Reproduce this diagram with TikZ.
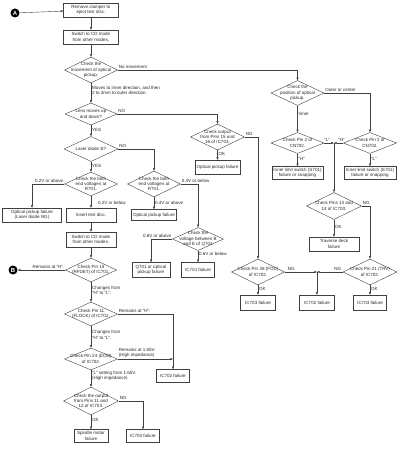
\documentclass[tikz,border=0pt]{standalone}
\usepackage{fontspec}
\setmainfont{Liberation Sans}
\usepackage{tikz}
\usetikzlibrary{shapes.geometric, arrows.meta}

\begin{document}
\begin{tikzpicture}[x=1pt, y=-1pt,
        font=\fontsize{4.5}{5.3}\selectfont,
        every node/.style={text=black!85},
        every label/.style={align=center, inner sep=0pt},
        box/.style={draw=black!75, line width=0.4pt, rectangle, align=center, inner sep=0.5pt},
        decision/.style={draw=black!75, line width=0.4pt, diamond, inner sep=0pt},
        lbl/.style={align=left, inner sep=1pt},
        tag/.style={circle, fill=black, text=white, font=\fontsize{6}{6}\selectfont\bfseries, inner sep=0pt, minimum size=9pt},
        arrow/.style={draw=black!75, line width=0.4pt, -{Triangle[length=2.6pt, width=2pt]}}
    ]
        \useasboundingbox (0,0) rectangle (400,449);

        % left column
        \node[tag] (circA) at (15,13) {A};
        \node[box, minimum width=55pt, minimum height=14pt] (remove) at (91,10) {Remove clamper to\\eject test disc.};
        \node[box, minimum width=55pt, minimum height=14pt] (cdmode) at (91,37) {Switch to CD mode\\from other modes.};
        \node[decision, minimum width=53pt, minimum height=26pt, label={center:{Check the\\movement of optical\\pickup.}}] (move) at (91,70) {};
        \node[decision, minimum width=52pt, minimum height=22pt, label={center:{Lens moves up\\and down?}}] (lens) at (91,114) {};
        \node[decision, minimum width=54pt, minimum height=25pt, label={center:{Laser diode lit?}}] (laser) at (91,149) {};
        \node[decision, minimum width=53pt, minimum height=24pt, label={center:{Check the both\\end voltages at\\R701.}}] (rvolt) at (91,184) {};
        \node[box, minimum width=59pt, minimum height=14pt] (laserng) at (32,215) {Optical pickup failure\\(Laser diode NG)};
        \node[box, minimum width=50pt, minimum height=14pt] (insert) at (91,215) {Insert test disc.};
        \node[box, minimum width=50pt, minimum height=15pt] (cdmode2) at (91,239.5) {Switch to CD mode\\from other modes.};
        \node[decision, minimum width=51pt, minimum height=24pt, label={center:{Check Pin 15\\(RFDET) of IC701.}}] (rfdet) at (91,270) {};
        \node[tag] (circB) at (13,270) {B};
        \node[decision, minimum width=53pt, minimum height=24pt, label={center:{Check Pin 11\\(FLOCK) of IC702.}}] (flock) at (91,314) {};
        \node[decision, minimum width=53pt, minimum height=22pt, label={center:{Check Pin 24 (ECM)\\of IC702.}}] (ecm) at (91,359) {};
        \node[box, minimum width=33pt, minimum height=13pt] (flockng) at (173,376) {IC702 failure};
        \node[decision, minimum width=55pt, minimum height=28pt, label={center:{Check the output\\from Pins 11 and\\12 of IC703.}}] (spout) at (91,401) {};
        \node[box, minimum width=34pt, minimum height=13pt] (spindle) at (91,436) {Spindle motor\\failure};
        \node[box, minimum width=33pt, minimum height=13pt] (spng) at (143,436) {IC703 failure};

        % middle column
        \node[decision, minimum width=54pt, minimum height=26pt, label={center:{Check output\\from Pins 15 and\\16 of IC703.}}] (output) at (217.5,137) {};
        \node[box, minimum width=45pt, minimum height=14pt] (outputok) at (217.5,167) {Optical pickup failure};
        \node[decision, minimum width=53pt, minimum height=26pt, label={center:{Check the both\\end voltages at\\R701.}}] (rmid) at (154,184) {};
        \node[box, minimum width=45pt, minimum height=11pt] (rmidok) at (154,215) {Optical pickup failure};
        \node[decision, minimum width=51pt, minimum height=23pt, label={center:{Check the\\voltage between B\\and E of Q701}}] (qvolt) at (198,239) {};
        \node[box, minimum width=38pt, minimum height=15pt] (qfail) at (151,270) {Q701 or optical\\pickup failure};
        \node[box, minimum width=33pt, minimum height=15pt] (icfail) at (198,270) {IC701 failure};

        % right column
        \node[decision, minimum width=53pt, minimum height=25pt, label={center:{Check the\\position of optical\\pickup.}}] (position) at (297.5,93) {};
        \node[decision, minimum width=53pt, minimum height=21pt, label={center:{Check Pin 2 of\\CN702.}}] (pininner) at (297.5,143) {};
        \node[decision, minimum width=53pt, minimum height=21pt, label={center:{Check Pin 2 of\\CN702.}}] (pinouter) at (370,143) {};
        \node[box, minimum width=51pt, minimum height=13pt] (limin) at (297.5,173) {Inner limit switch (S701)\\failure or snapping};
        \node[box, minimum width=52pt, minimum height=13pt] (limout) at (370,173) {Inner limit switch (S701)\\failure or snapping};
        \node[decision, minimum width=55pt, minimum height=27pt, label={center:{Check Pins 13 and\\14 of IC703.}}] (trvpins) at (334,206) {};
        \node[box, minimum width=50pt, minimum height=14pt] (traverse) at (334,244) {Traverse deck\\failure};
        \node[decision, minimum width=53pt, minimum height=26pt, label={center:{Check Pin 28 (FOD)\\of IC702.}}] (fod) at (258,272) {};
        \node[decision, minimum width=54pt, minimum height=26pt, label={center:{Check Pin 21 (TRV)\\of IC702.}}] (trv) at (370,272) {};
        \node[box, minimum width=35pt, minimum height=15pt] (fodok) at (258,302.5) {IC703 failure};
        \node[box, minimum width=35pt, minimum height=15pt] (fodng) at (317,302.5) {IC702 failure};
        \node[box, minimum width=33pt, minimum height=15pt] (trvok) at (370,302.5) {IC703 failure};

        \coordinate (limjoin) at (trvpins.north |- pininner.east);
        \coordinate (fodjoin) at (fodng.north |- fod.east);
        \coordinate (ecmjoin) at (flockng.north |- ecm.east);

        % connectors
        \draw[arrow] (circA) -- (remove);
        \draw[arrow] (remove) -- (cdmode);
        \draw[arrow] (cdmode) -- (move);
        \draw[arrow] (move.east) -| node[lbl, above right, pos=0] {No movement} (position.north);
        \draw[arrow] (move.south) -- node[lbl, right, pos=0.35] {Moves to inner direction, and then\\2 to 3mm to outer direction.} (lens.north);
        \draw[arrow] (lens.east) -| node[lbl, above right, pos=0] {NO} (output.north);
        \draw[arrow] (lens.south) -- node[lbl, right, pos=0.4] {YES} (laser.north);
        \draw[arrow] (laser.east) -| node[lbl, above right, pos=0] {NO} (rmid.north);
        \draw[arrow] (laser.south) -- node[lbl, right, pos=0.4] {YES} (rvolt.north);
        \draw[arrow] (rvolt.west) -| node[lbl, above left, pos=0] {0.2V or above} (laserng.north);
        \draw[arrow] (rvolt.south) -- node[lbl, right, pos=0.55, xshift=6pt] {0.2V or below} (insert.north);
        \draw[arrow] (insert) -- (cdmode2);
        \draw[arrow] (cdmode2) -- (rfdet);
        \draw[arrow] (rfdet.west) -- node[lbl, above left, pos=0] {Remains at ``H''.} (circB);
        \draw[arrow] (rfdet.south) -- node[lbl, right, pos=0.4] {Changes from\\``H'' to ``L''.} (flock.north);
        \draw[arrow] (flock.east) -| node[lbl, above right, pos=0] {Remains at ``H''.} (flockng.north);
        \draw[arrow] (flock.south) -- node[lbl, right, pos=0.4] {Changes from\\``H'' to ``L''.} (ecm.north);
        \draw[arrow] (ecm.east) -- node[lbl, above right, pos=0] {Remains at 1.65V.\\(High impedance)} (ecmjoin);
        \draw[arrow] (ecm.south) -- node[lbl, right, pos=0.35] {``L'' setting from 1.65V.\\(High impedance)} (spout.north);
        \draw[arrow] (spout.east) -| node[lbl, above right, pos=0] {NG} (spng.north);
        \draw[arrow] (spout.south) -- node[lbl, right, pos=0.35] {OK} (spindle.north);

        \draw[arrow] (output.east) -| node[lbl, above right, pos=0] {NG} (fod.north);
        \draw[arrow] (output.south) -- node[lbl, right, pos=0.4] {OK} (outputok.north);
        \draw[arrow] (rmid.east) -| node[lbl, above right, pos=0] {0.4V or below} (qvolt.north);
        \draw[arrow] (rmid.south) -- node[lbl, right, pos=0.5] {0.4V or above} (rmidok.north);
        \draw[arrow] (qvolt.west) -| node[lbl, above left, pos=0] {0.6V or above} (qfail.north);
        \draw[arrow] (qvolt.south) -- node[lbl, right, pos=0.3] {0.6V or below} (icfail.north);

        \draw[arrow] (position.south) -- node[lbl, right, pos=0.3] {Inner} (pininner.north);
        \draw[arrow] (position.east) -| node[lbl, above right, pos=0] {Outer or center} (pinouter.north);
        \draw[arrow] (pininner.south) -- node[lbl, right, pos=0.4] {``H''} (limin.north);
        \draw[arrow] (pinouter.south) -- node[lbl, right, pos=0.4] {``L''} (limout.north);
        \draw[arrow] (pininner.east) -- node[lbl, above, pos=0.3] {``L''} (limjoin);
        \draw[arrow] (pinouter.west) -- node[lbl, above, pos=0.2] {``H''} (limjoin);
        \draw[arrow] (limjoin) -- (trvpins.north);
        \draw[arrow] (trvpins.east) -| node[lbl, above right, pos=0] {NG} (trv.north);
        \draw[arrow] (trvpins.south) -- node[lbl, right, pos=0.4] {OK} (traverse.north);
        \draw[arrow] (fod.east) -- node[lbl, above, pos=0.2] {NG} (fodjoin);
        \draw[arrow] (trv.west) -- node[lbl, above, pos=0.2] {NG} (fodjoin);
        \draw[arrow] (fodjoin) -- (fodng.north);
        \draw[arrow] (fod.south) -- node[lbl, right, pos=0.4] {OK} (fodok.north);
        \draw[arrow] (trv.south) -- node[lbl, right, pos=0.4] {OK} (trvok.north);

    \end{tikzpicture}
\end{document}
